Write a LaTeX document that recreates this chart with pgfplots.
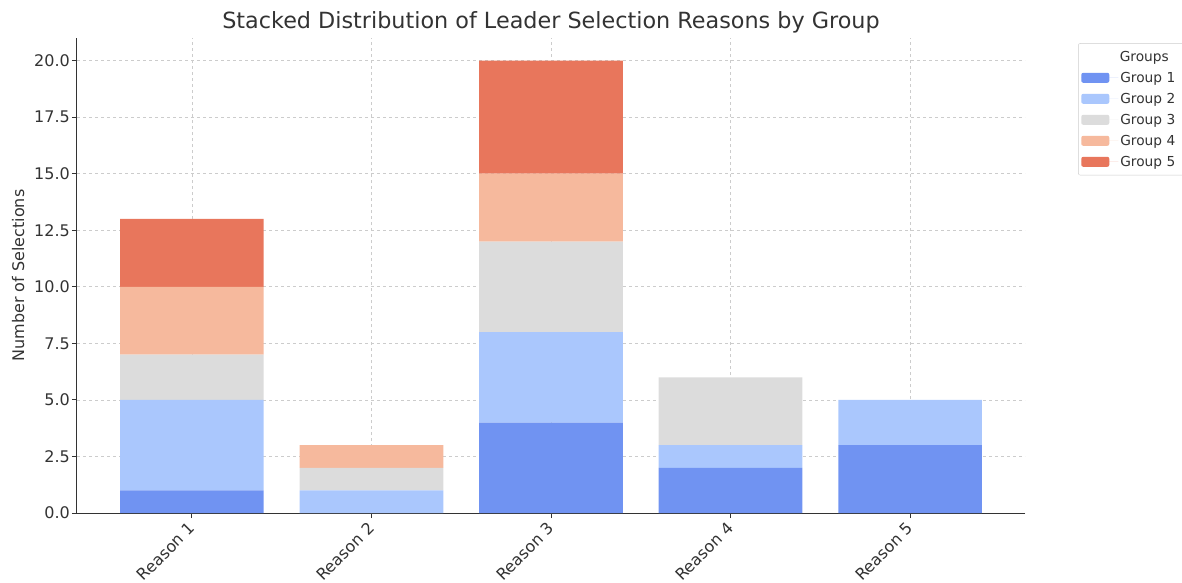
\documentclass[border=0pt]{standalone}
\usepackage{pgfplots}
\pgfplotsset{compat=1.18}
\usepackage{fontspec}
\setmainfont{DejaVu Sans}
\definecolor{gA}{HTML}{7093F2}
\definecolor{gB}{HTML}{AAC7FD}
\definecolor{gC}{HTML}{DCDCDC}
\definecolor{gD}{HTML}{F6B99D}
\definecolor{gE}{HTML}{E8765C}
\definecolor{gridc}{HTML}{CCCCCC}
\definecolor{axc}{HTML}{333333}
\begin{document}
\begin{tikzpicture}
\useasboundingbox (-77pt,-69pt) rectangle (1105pt,513pt);
\begin{axis}[
  scale only axis,
  width=948pt, height=475pt,
  at={(0pt,0pt)}, anchor=south west,
  ybar stacked, bar width=0.8,
  xmin=-0.64, xmax=4.64, ymin=0, ymax=21,
  xtick={0,1,2,3,4},
  xticklabels={Reason 1,Reason 2,Reason 3,Reason 4,Reason 5},
  ytick={0,2.5,5,7.5,10,12.5,15,17.5,20},
  /pgf/number format/assume math mode=true,
  x tick label style={rotate=45, anchor=north east, font=\fontsize{16}{19}\selectfont, inner sep=1pt, text=axc, xshift=-4pt, yshift=2pt},
  y tick label style={font=\fontsize{16}{19}\selectfont, text=axc, inner sep=2pt, /pgf/number format/fixed, /pgf/number format/fixed zerofill, /pgf/number format/precision=1},
  axis x line*=bottom, axis y line*=left,
  axis line style={axc, line width=1pt},
  tick style={axc, line width=1pt},
  tick align=outside, major tick length=5pt,
  ymajorgrids,
  major grid style={gridc, dashed, line width=0.7pt},
  ylabel={Number of Selections},
  ylabel style={font=\fontsize{16}{19}\selectfont, text=axc, at={(axis description cs:-0.0622,0.5)}, anchor=center},
  title={Stacked Distribution of Leader Selection Reasons by Group},
  title style={font=\fontsize{22.3}{26}\selectfont, text=axc, at={(axis description cs:0.5,1.0)}, anchor=south, yshift=-5pt},
  legend style={at={(axis description cs:1.056,0.989)}, anchor=north west,
    font=\fontsize{13.75}{16}\selectfont, draw=gridc, rounded corners=2pt,
    row sep=5.3pt, inner xsep=3pt, inner ysep=5.5pt, text=axc},
  legend cell align=left,
  legend image code/.code={\fill[#1] (0pt,-5pt) rectangle (28pt,5pt); \path (0pt,0pt) -- (37pt,0pt);},
]
\addlegendimage{empty legend}
\addlegendentry{\hspace{-22pt}\makebox[92pt][c]{Groups}}
\addplot[fill=gA, draw=none] coordinates {(0,1) (1,0) (2,4) (3,2) (4,3)};
\addlegendentry{Group 1}
\addplot[fill=gB, draw=none] coordinates {(0,4) (1,1) (2,4) (3,1) (4,2)};
\addlegendentry{Group 2}
\addplot[fill=gC, draw=none] coordinates {(0,2) (1,1) (2,4) (3,3) (4,0)};
\addlegendentry{Group 3}
\addplot[fill=gD, draw=none] coordinates {(0,3) (1,1) (2,3) (3,0) (4,0)};
\addlegendentry{Group 4}
\addplot[fill=gE, draw=none] coordinates {(0,3) (1,0) (2,5) (3,0) (4,0)};
\addlegendentry{Group 5}
\pgfplotsinvokeforeach{0,1,2,3,4}{\draw[gridc, dashed, line width=0.7pt] (axis cs:#1,0) -- (axis cs:#1,21);}
\end{axis}
\end{tikzpicture}
\end{document}
